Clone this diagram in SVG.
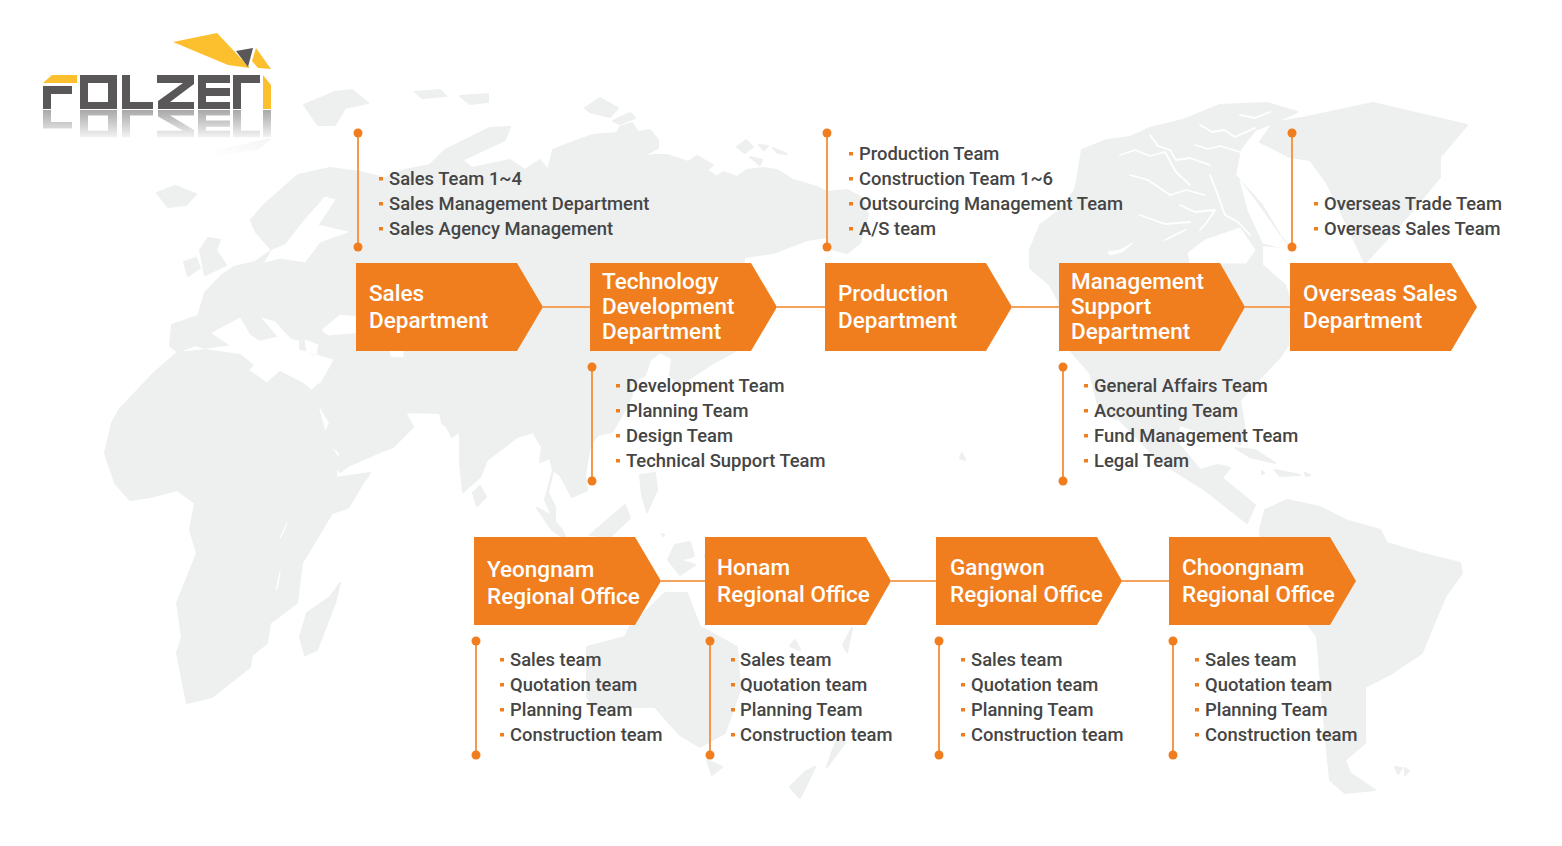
<svg xmlns="http://www.w3.org/2000/svg" width="1562" height="846" viewBox="0 0 1562 846">
<style>
text{font-family:Roboto,"Noto Sans","Liberation Sans",sans-serif}
.m{fill:#eeefef;stroke:#eeefef;stroke-width:2;stroke-linejoin:round}
.w{fill:#fff;stroke:#fff;stroke-width:1;stroke-linejoin:round}
.l{fill:none;stroke:#fff;stroke-width:1.8;stroke-linecap:round;stroke-linejoin:round}
.b{fill:#f07e1e}
.h{font-size:22.5px;font-weight:500;fill:#fff}
.t{font-size:18.4px;font-weight:500;fill:#454545}
.c{stroke:#f4a25c;stroke-width:2;fill:none}
.s{stroke:#f4994a;stroke-width:2;fill:none}
.d{fill:#f07e1e}
.g{fill:#595757}
.y{fill:#fcbf2e}
</style>
<defs>
<linearGradient id="r" x1="0" y1="1" x2="0" y2="0"><stop offset="0" stop-color="#a8a8a8"/><stop offset="1" stop-color="#f2f2f2"/></linearGradient>
<linearGradient id="r2" x1="1" y1="0" x2="0" y2="1"><stop offset="0" stop-color="#f4f4f4"/><stop offset="1" stop-color="#fff"/></linearGradient>
</defs>
<g id="map">
<path class="m" d="M170 346L172 325L198 316L205 293L222 275L234 267L255 262L272 250L256 232L251 220L264 205L298 175L330 168L360 172L385 178L405 170L430 165L445 150L490 128L510 127L505 140L462 160L472 168L510 160L525 170L540 160L548 170L553 150L573 142L593 135L617 133L620 127L632 123L638 132L650 130L658 140L658 148L640 158L653 155L667 155L688 162L697 156L713 165L707 170L717 177L723 172L737 177L747 170L763 168L777 170L793 180L817 187L827 192L847 190L862 198L868 215L860 243L847 253L827 248L827 237L807 240L773 253L745 257L735 290L722 320L737 350L713 363L695 375L680 385L670 375L672 358L660 352L650 360L645 375L630 385L632 395L625 410L612 432L598 435L590 445L585 475L587 490L572 497L560 475L553 470L548 493L555 507L555 522L545 500L553 470L550 458L540 462L542 447L533 432L517 437L487 460L480 477L463 492L460 463L460 431L452 437L447 427L442 423L440 413L405 412L413 427L393 447L380 452L350 465L340 472L337 467L340 453L323 437L330 423L318 403L313 390L320 383L333 360L300 350L300 340L280 335L250 342L225 345L205 348L195 345L178 352Z"/>
<path class="m" d="M177 353L205 350L240 355L265 375L280 372L303 384L313 392L318 407L326 437L337 457L336 478L370 473L363 483L348 508L332 513L302 563L297 603L270 623L267 643L252 655L250 667L212 697L187 703L177 653L182 637L177 603L197 553L190 530L195 503L177 490L150 497L130 500L115 483L105 453L112 423L119 410L154 373Z"/>
<path class="w" d="M287 523L282 535L280 538L284 530ZM280 572L276 590L278 585Z"/>
<path class="m" d="M340 583L335 603L317 650L305 655L300 637L307 613L330 597ZM473 493L480 486L486 497L477 506ZM537 508L550 515L562 530L567 540L552 530ZM184 262L196 258L200 268L188 276ZM200 250L208 238L220 240L216 250L226 265L205 275ZM157 193L175 186L196 194L186 205L168 207ZM304 105L335 92L352 90L368 103L345 108L335 125L318 125ZM415 92L440 90L446 96L422 98ZM460 96L488 94L488 102L470 104ZM585 108L600 98L618 108L610 117L590 112ZM613 121L630 113L635 118L620 124ZM737 147L746 140L753 147L745 153ZM759 145L768 146L764 150ZM773 148L787 154L778 153ZM750 157L762 160L760 165ZM640 475L655 473L657 490L647 512L642 495ZM590 535L625 505L630 518L610 537ZM675 545L690 542L694 556L680 560L695 565L680 575L668 560ZM705 555L712 553L708 570ZM662 534L664 535L663 536Z"/>
<path class="m" d="M630 627L665 593L687 593L700 627L712 633L737 647L740 690L725 733L700 747L680 735L655 707L620 707L600 713L587 697L587 647L625 637ZM707 760L722 767L712 775ZM840 732L845 743L827 767L832 752ZM815 767L800 798L790 787L805 772ZM795 640L800 650L790 646ZM852 628L847 652L843 645Z"/>
<path class="m" d="M1082 150L1107 140L1130 137L1150 128L1183 120L1220 105L1267 103L1297 112L1273 123L1255 130L1240 150L1235 175L1262 205L1280 235L1290 248L1262 245L1262 265L1285 285L1290 300L1288 345L1280 357L1240 400L1245 430L1240 445L1225 430L1200 432L1180 425L1175 440L1200 470L1218 465L1230 468L1222 478L1255 505L1247 523L1205 490L1160 462L1120 420L1100 413L1090 373L1070 350L1058 300L1050 285L1030 268L1030 250L1040 225L1060 210L1075 190L1077 180Z"/>
<path class="m" d="M1307 117L1373 103L1467 125L1440 157L1440 177L1407 217L1377 250L1365 263L1340 210L1327 183L1310 160L1290 157L1260 142L1273 123Z"/>
<path class="m" d="M1235 448L1255 450L1275 463L1250 457ZM1275 470L1300 475L1280 476ZM1262 471L1264 473L1262 474ZM1305 473L1310 475L1306 476ZM1395 767L1402 768L1398 774ZM1405 768L1409 771L1405 775ZM962 453L965 460L960 458Z"/>
<path class="m" d="M1260 530L1265 510L1287 500L1320 507L1345 520L1380 530L1387 543L1420 553L1460 563L1462 573L1445 597L1430 633L1422 653L1392 673L1365 687L1365 743L1345 760L1350 773L1375 790L1345 793L1330 780L1325 730L1317 637L1290 600L1262 560Z"/>
<path class="w" d="M1188 253L1205 240L1240 228L1255 250L1246 263L1190 263ZM1240 180L1262 210L1290 250L1263 243L1248 210ZM1108 252L1120 250L1133 243L1122 252L1110 255ZM325 197L335 200L318 225L348 232L320 242L305 262L280 258L265 262L272 250L285 245L303 222ZM250 370L267 382L280 370L303 382L320 383L333 360L300 350L262 356ZM322 330L340 315L365 318L380 328L352 333L328 335ZM390 345L403 340L403 357L391 356ZM212 333L240 318L250 335L275 352L240 352ZM262 318L275 322L296 345L285 345ZM305 340L318 345L315 360L307 352Z"/>
<path class="l" d="M1150 135L1158 146L1170 150L1176 160L1190 158L1210 165M1200 125L1212 132L1224 130L1235 137L1255 128M1195 145L1208 149L1220 146L1240 152M1120 155L1135 150L1150 156L1165 152L1176 172L1190 185M1130 175L1148 180L1170 195L1186 190L1205 195M1210 175L1216 190L1225 215L1238 222L1250 235M1180 205L1195 212L1215 210L1207 222L1200 230M1140 215L1165 224L1190 222M1240 115L1255 118L1270 112M1165 240L1185 230M1215 245L1230 238L1240 240"/>
</g>
<g id="logo">
<polygon class="y" points="173,42 217,33 250,68 228,65"/>
<polygon class="g" points="236,51 253,48 248,67"/>
<polygon class="y" points="256,48 271,69 258,68 252,61"/>
<polygon class="y" points="43,83 52,75 77,75 77,83"/>
<polygon class="y" points="263,75 271,85 271,109 263,109"/>
<path class="g" fill-rule="evenodd" d="M43 86H72V94H51V109H43ZM80 75H117V109H80ZM88 83V102H108V83ZM122 75H130V102H153V109H122ZM157 75H194V84L170 102H194V109H158V101L183 83H157ZM198 75H230V83H206V88H230V96H206V102H230V109H198ZM233 75H260V83H241V109H233Z"/>
<g transform="translate(0,197.2) scale(1,-0.8)"><path fill="url(#r)" fill-rule="evenodd" d="M43 75V109H51V94H72V86H43ZM80 75H117V109H80ZM88 83V102H108V83ZM122 75H130V102H153V109H122ZM157 75H194V84L170 102H194V109H158V101L183 83H157ZM198 75H230V83H206V88H230V96H206V102H230V109H198ZM233 75H260V83H241V109H233ZM263 75H271V109H263Z"/></g>
<polygon fill="url(#r2)" points="205,153 262,140 272,138 258,150 220,155"/>
</g>
<g id="connectors">
<path class="c" d="M543 307H590M777 307H825M1012 307H1059M1245 307H1290M661 581H705M891 581H936M1122 581H1169"/>
</g>
<g id="sales"><polygon class="b" points="356,263 517,263 543,307 517,351 356,351"/><text class="h" x="369" y="301">Sales</text><text class="h" x="369" y="328">Department</text>
<path class="s" d="M358 133V247"/><circle class="d" cx="358" cy="133" r="4.5"/><circle class="d" cx="358" cy="247" r="4.5"/>
<path class="d" d="M379 177h4v3.5h-4zM379 202h4v3.5h-4zM379 227h4v3.5h-4z"/>
<text class="t" x="389" y="185">Sales Team 1~4</text><text class="t" x="389" y="210">Sales Management Department</text><text class="t" x="389" y="235">Sales Agency Management</text></g>
<g id="technology"><polygon class="b" points="590,263 751,263 777,307 751,351 590,351"/><text class="h" x="602" y="289">Technology</text><text class="h" x="602" y="314">Development</text><text class="h" x="602" y="339">Department</text>
<path class="s" d="M592 367V481"/><circle class="d" cx="592" cy="367" r="4.5"/><circle class="d" cx="592" cy="481" r="4.5"/>
<path class="d" d="M616 384h4v3.5h-4zM616 409h4v3.5h-4zM616 434h4v3.5h-4zM616 459h4v3.5h-4z"/>
<text class="t" x="626" y="392">Development Team</text><text class="t" x="626" y="417">Planning Team</text><text class="t" x="626" y="442">Design Team</text><text class="t" x="626" y="467">Technical Support Team</text></g>
<g id="production"><polygon class="b" points="825,263 986,263 1012,307 986,351 825,351"/><text class="h" x="838" y="301">Production</text><text class="h" x="838" y="328">Department</text>
<path class="s" d="M827 133V247"/><circle class="d" cx="827" cy="133" r="4.5"/><circle class="d" cx="827" cy="247" r="4.5"/>
<path class="d" d="M849 152h4v3.5h-4zM849 177h4v3.5h-4zM849 202h4v3.5h-4zM849 227h4v3.5h-4z"/>
<text class="t" x="859" y="160">Production Team</text><text class="t" x="859" y="185">Construction Team 1~6</text><text class="t" x="859" y="210">Outsourcing Management Team</text><text class="t" x="859" y="235">A/S team</text></g>
<g id="management"><polygon class="b" points="1059,263 1220,263 1245,307 1220,351 1059,351"/><text class="h" x="1071" y="289">Management</text><text class="h" x="1071" y="314">Support</text><text class="h" x="1071" y="339">Department</text>
<path class="s" d="M1063 367V481"/><circle class="d" cx="1063" cy="367" r="4.5"/><circle class="d" cx="1063" cy="481" r="4.5"/>
<path class="d" d="M1084 384h4v3.5h-4zM1084 409h4v3.5h-4zM1084 434h4v3.5h-4zM1084 459h4v3.5h-4z"/>
<text class="t" x="1094" y="392">General Affairs Team</text><text class="t" x="1094" y="417">Accounting Team</text><text class="t" x="1094" y="442">Fund Management Team</text><text class="t" x="1094" y="467">Legal Team</text></g>
<g id="overseas"><polygon class="b" points="1290,263 1451,263 1477,307 1451,351 1290,351"/><text class="h" x="1303" y="301">Overseas Sales</text><text class="h" x="1303" y="328">Department</text>
<path class="s" d="M1292 133V247"/><circle class="d" cx="1292" cy="133" r="4.5"/><circle class="d" cx="1292" cy="247" r="4.5"/>
<path class="d" d="M1314 202h4v3.5h-4zM1314 227h4v3.5h-4z"/>
<text class="t" x="1324" y="210">Overseas Trade Team</text><text class="t" x="1324" y="235">Overseas Sales Team</text></g>
<g id="yeongnam"><polygon class="b" points="474,537 635,537 661,581 635,625 474,625"/><text class="h" x="487" y="577">Yeongnam</text><text class="h" x="487" y="604">Regional Office</text>
<path class="s" d="M476 641V755"/><circle class="d" cx="476" cy="641" r="4.5"/><circle class="d" cx="476" cy="755" r="4.5"/>
<path class="d" d="M500 658h4v3.5h-4zM500 683h4v3.5h-4zM500 708h4v3.5h-4zM500 733h4v3.5h-4z"/>
<text class="t" x="510" y="666">Sales team</text><text class="t" x="510" y="691">Quotation team</text><text class="t" x="510" y="716">Planning Team</text><text class="t" x="510" y="741">Construction team</text></g>
<g id="honam"><polygon class="b" points="705,537 866,537 891,581 866,625 705,625"/><text class="h" x="717" y="575">Honam</text><text class="h" x="717" y="602">Regional Office</text>
<path class="s" d="M710 641V755"/><circle class="d" cx="710" cy="641" r="4.5"/><circle class="d" cx="710" cy="755" r="4.5"/>
<path class="d" d="M731 658h4v3.5h-4zM731 683h4v3.5h-4zM731 708h4v3.5h-4zM731 733h4v3.5h-4z"/>
<text class="t" x="740" y="666">Sales team</text><text class="t" x="740" y="691">Quotation team</text><text class="t" x="740" y="716">Planning Team</text><text class="t" x="740" y="741">Construction team</text></g>
<g id="gangwon"><polygon class="b" points="936,537 1097,537 1122,581 1097,625 936,625"/><text class="h" x="950" y="575">Gangwon</text><text class="h" x="950" y="602">Regional Office</text>
<path class="s" d="M939 641V755"/><circle class="d" cx="939" cy="641" r="4.5"/><circle class="d" cx="939" cy="755" r="4.5"/>
<path class="d" d="M961 658h4v3.5h-4zM961 683h4v3.5h-4zM961 708h4v3.5h-4zM961 733h4v3.5h-4z"/>
<text class="t" x="971" y="666">Sales team</text><text class="t" x="971" y="691">Quotation team</text><text class="t" x="971" y="716">Planning Team</text><text class="t" x="971" y="741">Construction team</text></g>
<g id="choongnam"><polygon class="b" points="1169,537 1330,537 1356,581 1330,625 1169,625"/><text class="h" x="1182" y="575">Choongnam</text><text class="h" x="1182" y="602">Regional Office</text>
<path class="s" d="M1173 641V755"/><circle class="d" cx="1173" cy="641" r="4.5"/><circle class="d" cx="1173" cy="755" r="4.5"/>
<path class="d" d="M1195 658h4v3.5h-4zM1195 683h4v3.5h-4zM1195 708h4v3.5h-4zM1195 733h4v3.5h-4z"/>
<text class="t" x="1205" y="666">Sales team</text><text class="t" x="1205" y="691">Quotation team</text><text class="t" x="1205" y="716">Planning Team</text><text class="t" x="1205" y="741">Construction team</text></g>
</svg>
